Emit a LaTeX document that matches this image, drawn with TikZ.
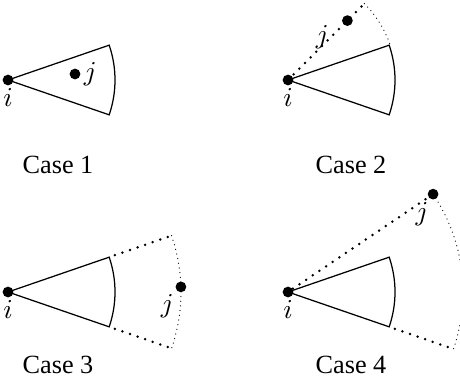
\documentclass[tikz,border=0pt]{standalone}
\usepackage[no-math]{fontspec}
\setmainfont{Liberation Serif}
\usetikzlibrary{calc}

\begin{document}
\begin{tikzpicture}[
  x=0.4pt, y=0.4pt,
  font=\fontsize{10.5}{12}\selectfont,
  pt/.style={circle, fill, inner sep=0pt, minimum size=4.3pt},
  lbl/.style={inner sep=1pt},
  wedge/.style={line width=0.5pt},
  far/.style={line width=1.1pt, line cap=round, dash pattern=on 0pt off 3.2pt},
  rim/.style={line width=0.5pt, line cap=round, dash pattern=on 0pt off 1.9pt}
]
\useasboundingbox (0,0) rectangle (460,382);

% node i and its sector in every case
\foreach \n/\px/\py in {1/8/302, 2/288/302, 3/8/90, 4/288/90} {
  \node[pt, label={[lbl]below:$i$}] (i\n) at (\px,\py) {};
  \draw[wedge] (i\n.center) -- ++(19:107)
    arc[start angle=19, end angle=-19, radius=107] -- cycle;
}

% captions
\foreach \n/\px/\py in {1/58/217, 2/351/217, 3/58/17, 4/351/17}
  \node (case\n) at (\px,\py) {Case \n};

% case 1: j inside the sector
\node[pt, label={[lbl]right:$j$}] (j1) at ($(i1)+(67,6)$) {};

% case 2: j beyond the upper edge
\draw[far] (i2.center) -- ++(45:108) coordinate (e2);
\draw[rim] (e2) arc[start angle=45, end angle=19, radius=108];
\node[pt, label={[lbl, label distance=4pt]188:$j$}] (j2) at ($(i2)+(45:84)$) {};

% case 3: j farther than the radius
\path (i3) ++(19:113) coordinate (a3) ++(19:60) coordinate (b3);
\path (i3) ++(-19:113) coordinate (c3) ++(-19:60) coordinate (d3);
\draw[far] (a3) -- (b3);
\draw[far] (c3) -- (d3);
\draw[rim] (b3) arc[start angle=19, end angle=-19, radius=173];
\node[pt, label={[lbl]below left:$j$}] (j3) at ($(i3)+(1.7:173)$) {};

% case 4: j farther and beyond the edge
\node[pt, label={[lbl]-105:$j$}] (j4) at ($(i4)+(34:175)$) {};
\draw[far] (i4) -- (j4);
\draw[rim] (j4.center) arc[start angle=34, end angle=-19, radius=175] coordinate (d4);
\path (i4) ++(-19:113) coordinate (c4);
\draw[far] (c4) -- (d4);
\end{tikzpicture}
\end{document}
